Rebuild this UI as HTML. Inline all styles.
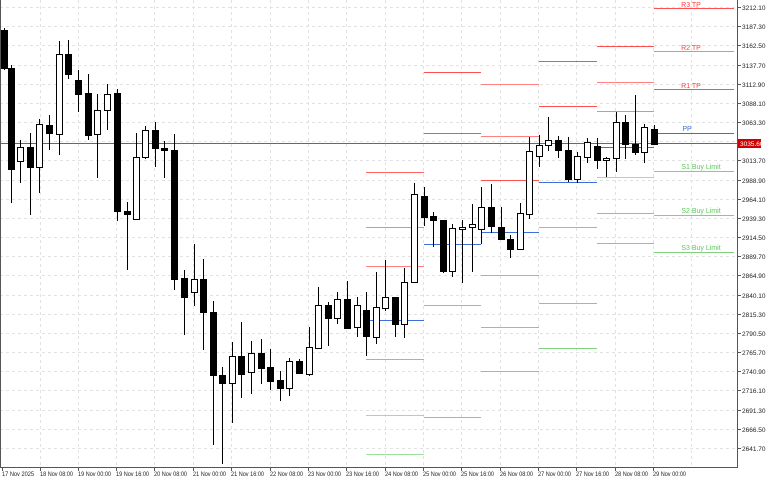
<!DOCTYPE html>
<html><head><meta charset="utf-8"><style>
html,body{margin:0;padding:0;background:#fff;}
svg{display:block;font-family:"Liberation Sans",sans-serif;}
</style></head><body>
<svg width="768" height="480" viewBox="0 0 768 480" xmlns="http://www.w3.org/2000/svg">
<rect width="768" height="480" fill="#fff"/>
<g stroke="#e2e2e2" stroke-width="1" stroke-dasharray="3,3" shape-rendering="crispEdges">
<line x1="0" x2="737" y1="7.5" y2="7.5"/><line x1="0" x2="737" y1="26.5" y2="26.5"/><line x1="0" x2="737" y1="45.5" y2="45.5"/><line x1="0" x2="737" y1="65.5" y2="65.5"/><line x1="0" x2="737" y1="84.5" y2="84.5"/><line x1="0" x2="737" y1="103.5" y2="103.5"/><line x1="0" x2="737" y1="122.5" y2="122.5"/><line x1="0" x2="737" y1="141.5" y2="141.5"/><line x1="0" x2="737" y1="160.5" y2="160.5"/><line x1="0" x2="737" y1="180.5" y2="180.5"/><line x1="0" x2="737" y1="199.5" y2="199.5"/><line x1="0" x2="737" y1="218.5" y2="218.5"/><line x1="0" x2="737" y1="237.5" y2="237.5"/><line x1="0" x2="737" y1="256.5" y2="256.5"/><line x1="0" x2="737" y1="275.5" y2="275.5"/><line x1="0" x2="737" y1="295.5" y2="295.5"/><line x1="0" x2="737" y1="314.5" y2="314.5"/><line x1="0" x2="737" y1="333.5" y2="333.5"/><line x1="0" x2="737" y1="352.5" y2="352.5"/><line x1="0" x2="737" y1="371.5" y2="371.5"/><line x1="0" x2="737" y1="390.5" y2="390.5"/><line x1="0" x2="737" y1="410.5" y2="410.5"/><line x1="0" x2="737" y1="429.5" y2="429.5"/><line x1="0" x2="737" y1="448.5" y2="448.5"/>
<line y1="0" y2="467" x1="40.5" x2="40.5"/><line y1="0" y2="467" x1="78.5" x2="78.5"/><line y1="0" y2="467" x1="116.5" x2="116.5"/><line y1="0" y2="467" x1="154.5" x2="154.5"/><line y1="0" y2="467" x1="193.5" x2="193.5"/><line y1="0" y2="467" x1="231.5" x2="231.5"/><line y1="0" y2="467" x1="270.5" x2="270.5"/><line y1="0" y2="467" x1="308.5" x2="308.5"/><line y1="0" y2="467" x1="346.5" x2="346.5"/><line y1="0" y2="467" x1="385.5" x2="385.5"/><line y1="0" y2="467" x1="423.5" x2="423.5"/><line y1="0" y2="467" x1="461.5" x2="461.5"/><line y1="0" y2="467" x1="500.5" x2="500.5"/><line y1="0" y2="467" x1="538.5" x2="538.5"/><line y1="0" y2="467" x1="576.5" x2="576.5"/><line y1="0" y2="467" x1="615.5" x2="615.5"/><line y1="0" y2="467" x1="653.5" x2="653.5"/><line y1="0" y2="467" x1="691.5" x2="691.5"/>
</g>
<g stroke-width="1" shape-rendering="crispEdges">
<line x1="366" x2="424" y1="172.5" y2="172.5" stroke="#ff6060"/><line x1="366" x2="424" y1="227.5" y2="227.5" stroke="#ff8080"/><line x1="366" x2="424" y1="266.5" y2="266.5" stroke="#ff8080"/><line x1="366" x2="424" y1="320.5" y2="320.5" stroke="#3d6fd8"/><line x1="366" x2="424" y1="359.5" y2="359.5" stroke="#80d080"/><line x1="366" x2="424" y1="415.5" y2="415.5" stroke="#9ce09c"/><line x1="366" x2="424" y1="454.5" y2="454.5" stroke="#9ce09c"/>
<line x1="424" x2="481" y1="72.5" y2="72.5" stroke="#ff5050"/><line x1="424" x2="481" y1="133.5" y2="133.5" stroke="#ff5050"/><line x1="424" x2="481" y1="244.5" y2="244.5" stroke="#3d6fd8"/><line x1="424" x2="481" y1="305.5" y2="305.5" stroke="#80d080"/><line x1="424" x2="481" y1="417.5" y2="417.5" stroke="#80d080"/>
<line x1="481" x2="539" y1="84.5" y2="84.5" stroke="#ff8080"/><line x1="481" x2="539" y1="136.5" y2="136.5" stroke="#ff8080"/><line x1="481" x2="539" y1="180.5" y2="180.5" stroke="#ff5050"/><line x1="481" x2="539" y1="232.5" y2="232.5" stroke="#3d6fd8"/><line x1="481" x2="539" y1="275.5" y2="275.5" stroke="#80d080"/><line x1="481" x2="539" y1="327.5" y2="327.5" stroke="#80d080"/><line x1="481" x2="539" y1="371.5" y2="371.5" stroke="#80d080"/>
<line x1="539" x2="597" y1="61.5" y2="61.5" stroke="#ff5050"/><line x1="539" x2="597" y1="106.5" y2="106.5" stroke="#ff5050"/><line x1="539" x2="597" y1="182.5" y2="182.5" stroke="#3d6fd8"/><line x1="539" x2="597" y1="227.5" y2="227.5" stroke="#80d080"/><line x1="539" x2="597" y1="303.5" y2="303.5" stroke="#80d080"/><line x1="539" x2="597" y1="348.5" y2="348.5" stroke="#80d080"/>
<line x1="597" x2="654" y1="46.5" y2="46.5" stroke="#ff5050"/><line x1="597" x2="654" y1="82.5" y2="82.5" stroke="#ff8080"/><line x1="597" x2="654" y1="111.5" y2="111.5" stroke="#ff8080"/><line x1="597" x2="654" y1="147.5" y2="147.5" stroke="#3d6fd8"/><line x1="597" x2="654" y1="177.5" y2="177.5" stroke="#9ce09c"/><line x1="597" x2="654" y1="213.5" y2="213.5" stroke="#80d080"/><line x1="597" x2="654" y1="243.5" y2="243.5" stroke="#80d080"/>
<line x1="654" x2="734" y1="8.5" y2="8.5" stroke="#ff5050"/><line x1="654" x2="734" y1="51.5" y2="51.5" stroke="#ff8080"/><line x1="654" x2="734" y1="89.5" y2="89.5" stroke="#ff5050"/><line x1="654" x2="734" y1="133.5" y2="133.5" stroke="#3d6fd8"/><line x1="654" x2="734" y1="171.5" y2="171.5" stroke="#80d080"/><line x1="654" x2="734" y1="215.5" y2="215.5" stroke="#80d080"/><line x1="654" x2="734" y1="252.5" y2="252.5" stroke="#80d080"/>
</g>
<g font-size="7" text-anchor="middle">
<text x="691" y="7" fill="#ff4040">R3 TP</text>
<text x="691" y="50" fill="#ff4040">R2 TP</text>
<text x="691" y="88" fill="#ff4040">R1 TP</text>
<text x="687" y="131" fill="#3d6fd8">PP</text>
<text x="701" y="169" fill="#5cc85c">S1 Buy Limit</text>
<text x="701" y="213" fill="#5cc85c">S2 Buy Limit</text>
<text x="701" y="250" fill="#5cc85c">S3 Buy Limit</text>
</g>
<line x1="0" x2="737" y1="143.5" y2="143.5" stroke="#b04848" stroke-width="1" shape-rendering="crispEdges"/>
<g stroke="#000" stroke-width="1" shape-rendering="crispEdges">
<line x1="4.5" x2="4.5" y1="28" y2="70"/><rect x="1.5" y="30.5" width="6" height="38" fill="#000"/>
<line x1="11.5" x2="11.5" y1="65" y2="203"/><rect x="8.5" y="68.5" width="6" height="101" fill="#000"/>
<line x1="20.5" x2="20.5" y1="140" y2="183"/><rect x="17.5" y="147.5" width="6" height="14" fill="#fff"/>
<line x1="30.5" x2="30.5" y1="133" y2="215"/><rect x="27.5" y="147.5" width="6" height="20" fill="#000"/>
<line x1="39.5" x2="39.5" y1="119" y2="193"/><rect x="36.5" y="124.5" width="6" height="43" fill="#fff"/>
<line x1="49.5" x2="49.5" y1="115" y2="150"/><rect x="46.5" y="125.5" width="6" height="8" fill="#000"/>
<line x1="59.5" x2="59.5" y1="41" y2="155"/><rect x="56.5" y="54.5" width="6" height="80" fill="#fff"/>
<line x1="68.5" x2="68.5" y1="40" y2="79"/><rect x="65.5" y="54.5" width="6" height="20" fill="#000"/>
<line x1="78.5" x2="78.5" y1="70" y2="112"/><rect x="75.5" y="80.5" width="6" height="14" fill="#000"/>
<line x1="88.5" x2="88.5" y1="74" y2="140"/><rect x="85.5" y="93.5" width="6" height="42" fill="#000"/>
<line x1="97.5" x2="97.5" y1="94" y2="178"/><rect x="94.5" y="110.5" width="6" height="24" fill="#fff"/>
<line x1="107.5" x2="107.5" y1="84" y2="130"/><rect x="104.5" y="94.5" width="6" height="16" fill="#fff"/>
<line x1="117.5" x2="117.5" y1="89" y2="221"/><rect x="114.5" y="93.5" width="6" height="118" fill="#000"/>
<line x1="127.5" x2="127.5" y1="202" y2="270"/><rect x="124.5" y="211.5" width="6" height="3" fill="#000"/>
<line x1="136.5" x2="136.5" y1="133" y2="220"/><rect x="133.5" y="157.5" width="6" height="62" fill="#fff"/>
<line x1="145.5" x2="145.5" y1="126" y2="159"/><rect x="142.5" y="130.5" width="6" height="27" fill="#fff"/>
<line x1="155.5" x2="155.5" y1="122" y2="167"/><rect x="152.5" y="130.5" width="6" height="18" fill="#000"/>
<line x1="164.5" x2="164.5" y1="141" y2="178"/><rect x="161.5" y="148.5" width="6" height="2" fill="#000"/>
<line x1="174.5" x2="174.5" y1="134" y2="290"/><rect x="171.5" y="150.5" width="6" height="129" fill="#000"/>
<line x1="184.5" x2="184.5" y1="270" y2="335"/><rect x="181.5" y="278.5" width="6" height="19" fill="#000"/>
<line x1="194.5" x2="194.5" y1="244" y2="306"/><rect x="191.5" y="279.5" width="6" height="13" fill="#fff"/>
<line x1="203.5" x2="203.5" y1="259" y2="350"/><rect x="200.5" y="279.5" width="6" height="33" fill="#000"/>
<line x1="213.5" x2="213.5" y1="301" y2="445"/><rect x="210.5" y="312.5" width="6" height="63" fill="#000"/>
<line x1="222.5" x2="222.5" y1="367" y2="464"/><rect x="219.5" y="375.5" width="6" height="8" fill="#000"/>
<line x1="232.5" x2="232.5" y1="342" y2="423"/><rect x="229.5" y="356.5" width="6" height="27" fill="#fff"/>
<line x1="241.5" x2="241.5" y1="322" y2="398"/><rect x="238.5" y="356.5" width="6" height="18" fill="#000"/>
<line x1="251.5" x2="251.5" y1="341" y2="394"/><rect x="248.5" y="353.5" width="6" height="19" fill="#fff"/>
<line x1="261.5" x2="261.5" y1="339" y2="384"/><rect x="258.5" y="353.5" width="6" height="15" fill="#000"/>
<line x1="270.5" x2="270.5" y1="349" y2="390"/><rect x="267.5" y="367.5" width="6" height="14" fill="#000"/>
<line x1="280.5" x2="280.5" y1="371" y2="401"/><rect x="277.5" y="380.5" width="6" height="8" fill="#000"/>
<line x1="289.5" x2="289.5" y1="358" y2="396"/><rect x="286.5" y="361.5" width="6" height="27" fill="#fff"/>
<line x1="299.5" x2="299.5" y1="359" y2="374"/><rect x="296.5" y="361.5" width="6" height="12" fill="#000"/>
<line x1="309.5" x2="309.5" y1="327" y2="376"/><rect x="306.5" y="347.5" width="6" height="27" fill="#fff"/>
<line x1="318.5" x2="318.5" y1="287" y2="349"/><rect x="315.5" y="305.5" width="6" height="43" fill="#fff"/>
<line x1="328.5" x2="328.5" y1="302" y2="346"/><rect x="325.5" y="305.5" width="6" height="13" fill="#000"/>
<line x1="337.5" x2="337.5" y1="292" y2="324"/><rect x="334.5" y="299.5" width="6" height="19" fill="#fff"/>
<line x1="347.5" x2="347.5" y1="281" y2="328"/><rect x="344.5" y="299.5" width="6" height="29" fill="#000"/>
<line x1="357.5" x2="357.5" y1="297" y2="337"/><rect x="354.5" y="305.5" width="6" height="22" fill="#fff"/>
<line x1="366.5" x2="366.5" y1="292" y2="356"/><rect x="363.5" y="310.5" width="6" height="26" fill="#000"/>
<line x1="376.5" x2="376.5" y1="272" y2="344"/><rect x="373.5" y="307.5" width="6" height="30" fill="#fff"/>
<line x1="385.5" x2="385.5" y1="260" y2="311"/><rect x="382.5" y="297.5" width="6" height="11" fill="#fff"/>
<line x1="395.5" x2="395.5" y1="297" y2="337"/><rect x="392.5" y="297.5" width="6" height="27" fill="#000"/>
<line x1="404.5" x2="404.5" y1="268" y2="338"/><rect x="401.5" y="282.5" width="6" height="42" fill="#fff"/>
<line x1="414.5" x2="414.5" y1="183" y2="283"/><rect x="411.5" y="194.5" width="6" height="88" fill="#fff"/>
<line x1="424.5" x2="424.5" y1="187" y2="226"/><rect x="421.5" y="196.5" width="6" height="21" fill="#000"/>
<line x1="433.5" x2="433.5" y1="212" y2="247"/><rect x="430.5" y="216.5" width="6" height="4" fill="#000"/>
<line x1="443.5" x2="443.5" y1="220" y2="273"/><rect x="440.5" y="220.5" width="6" height="51" fill="#000"/>
<line x1="452.5" x2="452.5" y1="224" y2="277"/><rect x="449.5" y="228.5" width="6" height="43" fill="#fff"/>
<line x1="462.5" x2="462.5" y1="220" y2="283"/><rect x="459.5" y="227.5" width="6" height="2" fill="#fff"/>
<line x1="472.5" x2="472.5" y1="204" y2="272"/><rect x="469.5" y="224.5" width="6" height="3" fill="#fff"/>
<line x1="481.5" x2="481.5" y1="187" y2="244"/><rect x="478.5" y="207.5" width="6" height="22" fill="#fff"/>
<line x1="491.5" x2="491.5" y1="184" y2="233"/><rect x="488.5" y="207.5" width="6" height="19" fill="#000"/>
<line x1="501.5" x2="501.5" y1="207" y2="239"/><rect x="498.5" y="227.5" width="6" height="12" fill="#000"/>
<line x1="510.5" x2="510.5" y1="235" y2="258"/><rect x="507.5" y="239.5" width="6" height="10" fill="#000"/>
<line x1="520.5" x2="520.5" y1="203" y2="249"/><rect x="517.5" y="213.5" width="6" height="36" fill="#fff"/>
<line x1="529.5" x2="529.5" y1="137" y2="219"/><rect x="526.5" y="151.5" width="6" height="63" fill="#fff"/>
<line x1="539.5" x2="539.5" y1="135" y2="167"/><rect x="536.5" y="145.5" width="6" height="11" fill="#fff"/>
<line x1="548.5" x2="548.5" y1="117" y2="151"/><rect x="545.5" y="140.5" width="6" height="5" fill="#fff"/>
<line x1="558.5" x2="558.5" y1="136" y2="158"/><rect x="555.5" y="140.5" width="6" height="10" fill="#000"/>
<line x1="568.5" x2="568.5" y1="137" y2="182"/><rect x="565.5" y="150.5" width="6" height="29" fill="#000"/>
<line x1="577.5" x2="577.5" y1="152" y2="183"/><rect x="574.5" y="156.5" width="6" height="23" fill="#fff"/>
<line x1="587.5" x2="587.5" y1="138" y2="163"/><rect x="584.5" y="142.5" width="6" height="15" fill="#fff"/>
<line x1="597.5" x2="597.5" y1="138" y2="169"/><rect x="594.5" y="146.5" width="6" height="14" fill="#000"/>
<line x1="606.5" x2="606.5" y1="157" y2="177"/><rect x="603.5" y="158.5" width="6" height="2" fill="#fff"/>
<line x1="616.5" x2="616.5" y1="112" y2="172"/><rect x="613.5" y="122.5" width="6" height="36" fill="#fff"/>
<line x1="625.5" x2="625.5" y1="115" y2="159"/><rect x="622.5" y="122.5" width="6" height="22" fill="#000"/>
<line x1="635.5" x2="635.5" y1="95" y2="155"/><rect x="632.5" y="144.5" width="6" height="8" fill="#000"/>
<line x1="644.5" x2="644.5" y1="124" y2="163"/><rect x="641.5" y="127.5" width="6" height="25" fill="#fff"/>
<line x1="654.5" x2="654.5" y1="125" y2="144"/><rect x="651.5" y="129.5" width="6" height="15" fill="#000"/>
</g>
<g stroke="#555" stroke-width="1" shape-rendering="crispEdges">
<line x1="737.5" x2="737.5" y1="0" y2="467"/>
<line x1="0" x2="738" y1="467.5" y2="467.5"/>
<line x1="0.5" x2="0.5" y1="0" y2="467"/>
<line x1="737" x2="741" y1="7.5" y2="7.5"/><line x1="737" x2="741" y1="26.5" y2="26.5"/><line x1="737" x2="741" y1="45.5" y2="45.5"/><line x1="737" x2="741" y1="65.5" y2="65.5"/><line x1="737" x2="741" y1="84.5" y2="84.5"/><line x1="737" x2="741" y1="103.5" y2="103.5"/><line x1="737" x2="741" y1="122.5" y2="122.5"/><line x1="737" x2="741" y1="160.5" y2="160.5"/><line x1="737" x2="741" y1="180.5" y2="180.5"/><line x1="737" x2="741" y1="199.5" y2="199.5"/><line x1="737" x2="741" y1="218.5" y2="218.5"/><line x1="737" x2="741" y1="237.5" y2="237.5"/><line x1="737" x2="741" y1="256.5" y2="256.5"/><line x1="737" x2="741" y1="275.5" y2="275.5"/><line x1="737" x2="741" y1="295.5" y2="295.5"/><line x1="737" x2="741" y1="314.5" y2="314.5"/><line x1="737" x2="741" y1="333.5" y2="333.5"/><line x1="737" x2="741" y1="352.5" y2="352.5"/><line x1="737" x2="741" y1="371.5" y2="371.5"/><line x1="737" x2="741" y1="390.5" y2="390.5"/><line x1="737" x2="741" y1="410.5" y2="410.5"/><line x1="737" x2="741" y1="429.5" y2="429.5"/><line x1="737" x2="741" y1="448.5" y2="448.5"/>
<line y1="467" y2="471" x1="2.5" x2="2.5"/><line y1="467" y2="471" x1="40.5" x2="40.5"/><line y1="467" y2="471" x1="78.5" x2="78.5"/><line y1="467" y2="471" x1="116.5" x2="116.5"/><line y1="467" y2="471" x1="154.5" x2="154.5"/><line y1="467" y2="471" x1="193.5" x2="193.5"/><line y1="467" y2="471" x1="231.5" x2="231.5"/><line y1="467" y2="471" x1="270.5" x2="270.5"/><line y1="467" y2="471" x1="308.5" x2="308.5"/><line y1="467" y2="471" x1="346.5" x2="346.5"/><line y1="467" y2="471" x1="385.5" x2="385.5"/><line y1="467" y2="471" x1="423.5" x2="423.5"/><line y1="467" y2="471" x1="461.5" x2="461.5"/><line y1="467" y2="471" x1="500.5" x2="500.5"/><line y1="467" y2="471" x1="538.5" x2="538.5"/><line y1="467" y2="471" x1="576.5" x2="576.5"/><line y1="467" y2="471" x1="615.5" x2="615.5"/><line y1="467" y2="471" x1="653.5" x2="653.5"/>
</g>
<g font-size="6.5" fill="#222">
<text x="742" y="10">3212.10</text><text x="742" y="29">3187.30</text><text x="742" y="48">3162.50</text><text x="742" y="68">3137.70</text><text x="742" y="87">3112.90</text><text x="742" y="106">3088.10</text><text x="742" y="125">3063.30</text><text x="742" y="163">3013.70</text><text x="742" y="183">2988.90</text><text x="742" y="202">2964.10</text><text x="742" y="221">2939.30</text><text x="742" y="240">2914.50</text><text x="742" y="259">2889.70</text><text x="742" y="278">2864.90</text><text x="742" y="298">2840.10</text><text x="742" y="317">2815.30</text><text x="742" y="336">2790.50</text><text x="742" y="355">2765.70</text><text x="742" y="374">2740.90</text><text x="742" y="393">2716.10</text><text x="742" y="413">2691.30</text><text x="742" y="432">2666.50</text><text x="742" y="451">2641.70</text>
</g>
<rect x="738" y="139" width="23" height="9" fill="#d00000"/>
<text x="740" y="146" font-size="6.5" fill="#fff">3035.60</text>
<g font-size="6.5" fill="#222" lengthAdjust="spacingAndGlyphs">
<text x="2" y="476" textLength="32" lengthAdjust="spacingAndGlyphs">17 Nov 2025</text><text x="40" y="476" textLength="33" lengthAdjust="spacingAndGlyphs">18 Nov 08:00</text><text x="78" y="476" textLength="33" lengthAdjust="spacingAndGlyphs">19 Nov 00:00</text><text x="116" y="476" textLength="33" lengthAdjust="spacingAndGlyphs">19 Nov 16:00</text><text x="154" y="476" textLength="33" lengthAdjust="spacingAndGlyphs">20 Nov 08:00</text><text x="193" y="476" textLength="33" lengthAdjust="spacingAndGlyphs">21 Nov 00:00</text><text x="231" y="476" textLength="33" lengthAdjust="spacingAndGlyphs">21 Nov 16:00</text><text x="270" y="476" textLength="33" lengthAdjust="spacingAndGlyphs">22 Nov 08:00</text><text x="308" y="476" textLength="33" lengthAdjust="spacingAndGlyphs">23 Nov 00:00</text><text x="346" y="476" textLength="33" lengthAdjust="spacingAndGlyphs">23 Nov 16:00</text><text x="385" y="476" textLength="33" lengthAdjust="spacingAndGlyphs">24 Nov 08:00</text><text x="423" y="476" textLength="33" lengthAdjust="spacingAndGlyphs">25 Nov 00:00</text><text x="461" y="476" textLength="33" lengthAdjust="spacingAndGlyphs">25 Nov 16:00</text><text x="500" y="476" textLength="33" lengthAdjust="spacingAndGlyphs">26 Nov 08:00</text><text x="538" y="476" textLength="33" lengthAdjust="spacingAndGlyphs">27 Nov 00:00</text><text x="576" y="476" textLength="33" lengthAdjust="spacingAndGlyphs">27 Nov 16:00</text><text x="615" y="476" textLength="33" lengthAdjust="spacingAndGlyphs">28 Nov 08:00</text><text x="653" y="476" textLength="33" lengthAdjust="spacingAndGlyphs">29 Nov 00:00</text>
</g>
</svg>
</body></html>
